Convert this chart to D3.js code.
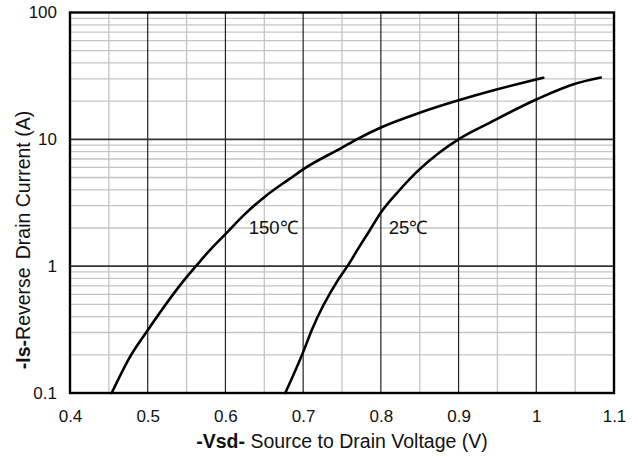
<!DOCTYPE html>
<html>
<head>
<meta charset="utf-8">
<script src="https://cdn.jsdelivr.net/npm/d3@7"></script>
<style>
  html, body { margin: 0; padding: 0; background: #fff; }
  svg { display: block; }
  text { font-family: "Liberation Sans", Arial, sans-serif; fill: #111; }
</style>
</head>
<body>
<svg id="chart" width="638" height="457"></svg>
<script>
// Reverse diode characteristic: -Is vs -Vsd at two junction temperatures
const xTicks = [0.4, 0.5, 0.6, 0.7, 0.8, 0.9, 1.0, 1.1];
const xTickLabels = ["0.4", "0.5", "0.6", "0.7", "0.8", "0.9", "1", "1.1"];
const yTicks = [0.1, 1, 10, 100];
const yTickLabels = ["0.1", "1", "10", "100"];

// Tj = 150 °C
const vsd150 = [0.4536, 0.4772, 0.50, 0.55, 0.562, 0.58, 0.60, 0.625, 0.65, 0.683, 0.70, 0.75, 0.769, 0.80, 0.85, 0.90, 0.95, 1.009];
const is150  = [0.10, 0.193, 0.313, 0.82, 1.0, 1.34, 1.79, 2.57, 3.5, 4.9, 5.8, 8.6, 10.0, 12.4, 16.2, 20.3, 24.8, 30.6];

// Tj = 25 °C
const vsd25 = [0.677, 0.70, 0.711, 0.745, 0.757, 0.771, 0.786, 0.80, 0.825, 0.85, 0.875, 0.90, 0.94, 1.00, 1.05, 1.083];
const is25  = [0.10, 0.21, 0.313, 0.78, 1.0, 1.38, 1.93, 2.65, 4.04, 5.82, 7.85, 10.0, 13.5, 20.6, 27.4, 30.7];

const curveLabels = ["150\u2103", "25\u2103"];
const labelAnchors = [[0.63, 1.8], [0.81, 1.8]];

const svg = d3.select("#chart");
const plotL = 70, plotR = 614, plotT = 12.5, plotB = 393;

const x = d3.scaleLinear().domain([0.4, 1.1]).range([plotL, plotR]);
const y = d3.scaleLog().domain([0.1, 100]).range([plotB, plotT]);

// minor grid
const g = svg.append("g");
const minorX = d3.range(0.45, 1.1, 0.1);
g.selectAll("line.mx").data(minorX).enter().append("line")
  .attr("x1", d => x(d)).attr("x2", d => x(d))
  .attr("y1", plotT).attr("y2", plotB)
  .attr("stroke", "#c4c4c4").attr("stroke-width", 1.3);
const minorY = [];
[0.1, 1, 10].forEach(dec => { for (let k = 2; k <= 9; k++) minorY.push(dec * k); });
g.selectAll("line.my").data(minorY).enter().append("line")
  .attr("x1", plotL).attr("x2", plotR)
  .attr("y1", d => y(d)).attr("y2", d => y(d))
  .attr("stroke", "#c4c4c4").attr("stroke-width", 1.3);

// major grid
g.selectAll("line.Mx").data(xTicks.slice(1, -1)).enter().append("line")
  .attr("x1", d => x(d)).attr("x2", d => x(d))
  .attr("y1", plotT).attr("y2", plotB)
  .attr("stroke", "#222").attr("stroke-width", 1.2);
g.selectAll("line.My").data(yTicks.slice(1, -1)).enter().append("line")
  .attr("x1", plotL).attr("x2", plotR)
  .attr("y1", d => y(d)).attr("y2", d => y(d))
  .attr("stroke", "#333").attr("stroke-width", 1.6);

// frame
svg.append("rect").attr("x", plotL).attr("y", plotT)
  .attr("width", plotR - plotL).attr("height", plotB - plotT)
  .attr("fill", "none").attr("stroke", "#000").attr("stroke-width", 2.4);

// tick labels via d3 axes
const xAxis = d3.axisBottom(x).tickValues(xTicks)
  .tickFormat((d, i) => xTickLabels[i]).tickSize(0).tickPadding(17);
const xa = svg.append("g").attr("transform", `translate(0,${plotB})`).call(xAxis);
xa.select(".domain").remove();
xa.selectAll("text").attr("font-size", 17).attr("fill", "#222")
  .attr("font-family", "Liberation Sans, Arial, sans-serif");

const yAxis = d3.axisLeft(y).tickValues(yTicks)
  .tickFormat((d, i) => yTickLabels[i]).tickSize(0).tickPadding(13);
const ya = svg.append("g").attr("transform", `translate(${plotL},0)`).call(yAxis);
ya.select(".domain").remove();
ya.selectAll("text").attr("font-size", 17).attr("fill", "#222")
  .attr("font-family", "Liberation Sans, Arial, sans-serif");

// curves
const line = d3.line().x(d => x(d[0])).y(d => y(d[1])).curve(d3.curveMonotoneX);
[[vsd150, is150], [vsd25, is25]].forEach(([vs, is]) => {
  svg.append("path").datum(vs.map((v, i) => [v, is[i]]))
    .attr("d", line).attr("fill", "none")
    .attr("stroke", "#000").attr("stroke-width", 2.6)
    .attr("stroke-linecap", "round").attr("stroke-linejoin", "round");
});

// curve labels
svg.selectAll("text.cl").data(curveLabels).enter().append("text")
  .attr("x", (d, i) => x(labelAnchors[i][0]))
  .attr("y", (d, i) => y(labelAnchors[i][1]))
  .attr("font-size", 18.5).text(d => d);

// axis titles
const xt = svg.append("text").attr("x", 342).attr("y", 448)
  .attr("text-anchor", "middle").attr("font-size", 19.5);
xt.append("tspan").attr("font-weight", "bold").text("-Vsd-");
xt.append("tspan").text(" Source to Drain Voltage (V)");

const yt = svg.append("text")
  .attr("transform", "translate(30,240) rotate(-90)")
  .attr("text-anchor", "middle").attr("font-size", 19.5);
yt.append("tspan").attr("font-weight", "bold").text("-Is-");
yt.append("tspan").text("Reverse");
yt.append("tspan").attr("dx", 8).text("Drain Current (A)");
</script>
</body>
</html>
